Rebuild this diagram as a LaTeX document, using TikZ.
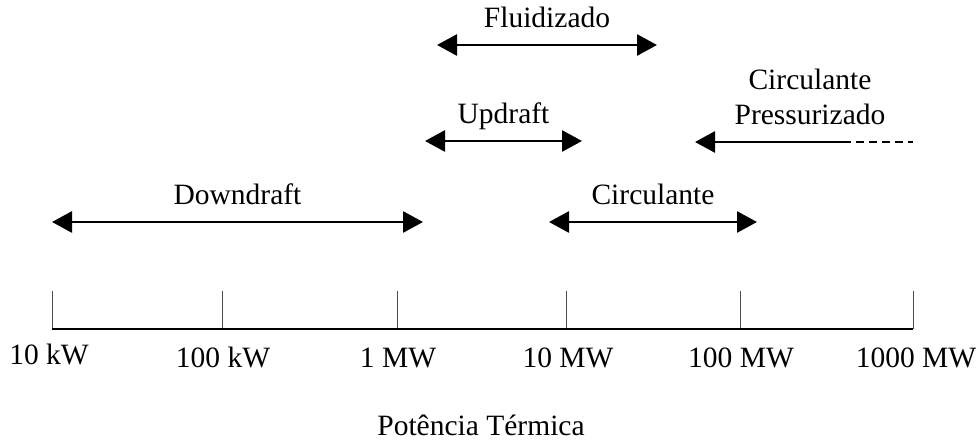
\documentclass[tikz,border=0pt]{standalone}
\usepackage{fontspec}
\setmainfont{Liberation Serif}
\usetikzlibrary{arrows.meta}
\tikzset{
  powerrange/.style={line width=2.8pt, {Triangle[length=20pt,width=21pt]}-{Triangle[length=20pt,width=21pt]}},
  openrange/.style={line width=2.8pt, {Triangle[length=20pt,width=21pt]}-},
  rangelabel/.style={anchor=base, inner sep=0pt, yshift=17pt},
  scalelabel/.style={anchor=base, inner sep=0pt},
  tickline/.style={line width=0.9pt, black!70},
}

\begin{document}
\begin{tikzpicture}[x=1pt, y=-1pt, font=\fontsize{29.5}{33}\selectfont]
\useasboundingbox (0,0) rectangle (978,443);
% escala de potencia
\foreach \name/\xpos/\lx/\ly/\txt in {a/52/49/365/10 kW, b/222/223/368/100 kW, c/397/398/368/1 MW, d/566/568/368/10 MW, e/740/741/368/100 MW, f/913/916/368/1000 MW}
 {
  \coordinate (t\name) at (\xpos,291);
  \coordinate (b\name) at (\xpos,329);
  \draw[tickline] (t\name) -- (b\name);
  \node[scalelabel] (l\name) at (\lx,\ly) {\txt};
 }
\draw[line width=1.1pt] (ba) -- (bf);
\node[scalelabel] (axisLabel) at (481,436) {Potência Térmica};
% faixas de aplicacao
\coordinate (fl1) at (437,45);
\coordinate (fl2) at (657,45);
\draw[powerrange] (fl1) -- node[rangelabel] (flLabel) {Fluidizado} (fl2);
\coordinate (up1) at (425,141);
\coordinate (up2) at (582,141);
\draw[powerrange] (up1) -- node[rangelabel] (upLabel) {Updraft} (up2);
\coordinate (dd1) at (52,222);
\coordinate (dd2) at (423,222);
\draw[powerrange] (dd1) -- node[rangelabel] (ddLabel) {Downdraft} (dd2);
\coordinate (ci1) at (549,222);
\coordinate (ci2) at (757,222);
\draw[powerrange] (ci1) -- node[rangelabel] (ciLabel) {Circulante} (ci2);
\coordinate (cp1) at (695,142);
\coordinate (cp2) at (843,142);
\coordinate (cp3) at (913,142);
\draw[openrange] (cp1) -- (cp2);
\draw[line width=1.4pt, dash pattern=on 8pt off 5pt] (cp2) -- (cp3);
\node[scalelabel] (cpLabelA) at (810,90) {Circulante};
\node[scalelabel] (cpLabelB) at (810,125) {Pressurizado};
\end{tikzpicture}
\end{document}
